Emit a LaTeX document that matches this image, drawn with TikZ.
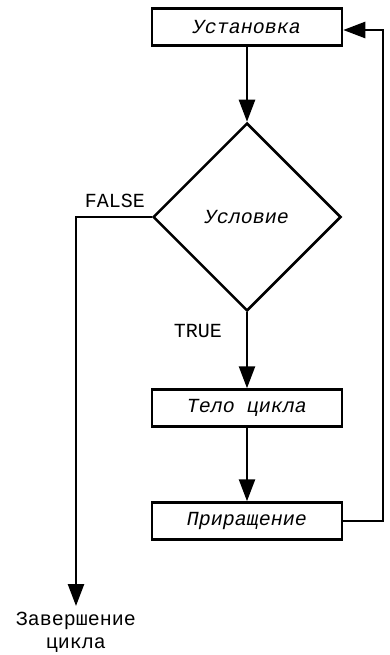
\documentclass[tikz,border=0pt]{standalone}
\usepackage{fontspec}
\newfontfamily\monof{Liberation Mono}
\usetikzlibrary{arrows.meta,shapes.geometric}
\begin{document}
\begin{tikzpicture}[x=1pt,y=-1pt,
  every node/.style={font=\monof\fontsize{20}{23}\selectfont},
  block/.style={draw,line width=2.5pt,minimum width=190pt,minimum height=37pt,inner sep=0pt,font=\monof\itshape\fontsize{20}{23}\selectfont},
  cond/.style={draw,diamond,line width=2.5pt,minimum width=188pt,minimum height=188pt,inner sep=0pt,font=\monof\itshape\fontsize{20}{23}\selectfont},
  link/.style={line width=2.5pt,-{Triangle[length=22pt,width=16pt]}},
  plain/.style={line width=2.5pt}]
\useasboundingbox (0,0) rectangle (389,655);
\node[block] (setup) at (247,27) {Установка};
\node[cond] (cond) at (247,217) {Условие};
\node[block] (body) at (247,408) {Тело цикла};
\node[block] (inc) at (247,521) {Приращение};
\node (false) at (115,201) {FALSE};
\node (true) at (198,331) {TRUE};
\node[align=center] (end) at (76,632) {Завершение\\цикла};
\coordinate (fl) at (76,217);
\coordinate (fe) at (76,606);
\coordinate (r1) at (383,521);
\coordinate (r2) at (383,30);
\draw[link] (setup) -- (cond.north);
\draw[link] (cond.south) -- (body);
\draw[link] (body) -- (inc);
\draw[link] (cond.west) -- (fl) -- (fe);
\draw[link] (inc.east) -- (r1) -- (r2) -- (setup.east |- r2);
\end{tikzpicture}
\end{document}
